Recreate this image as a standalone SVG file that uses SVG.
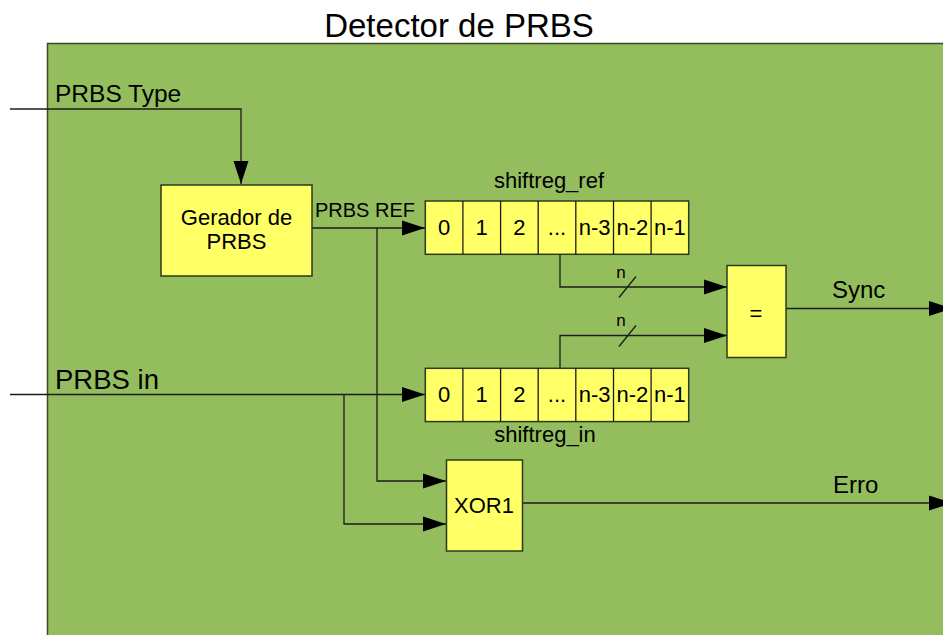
<svg xmlns="http://www.w3.org/2000/svg" width="943" height="635" viewBox="0 0 943 635">
<style>
.t{font-family:"Liberation Sans",Arial,sans-serif;fill:#000}
.blk{fill:#ffff66;stroke:#2e3a1c;stroke-width:1.5}
.w{fill:none;stroke:#1c1c1c;stroke-width:1.3}
.a{marker-end:url(#arr)}
</style>
<defs>
<marker id="arr" markerUnits="userSpaceOnUse" markerWidth="23" markerHeight="15" refX="23" refY="7.5" orient="auto" overflow="visible">
<path d="M0,0 L23,7.5 L0,15 Z" fill="#000"/>
</marker>
</defs>
<rect width="943" height="635" fill="#fff"/>
<g id="frame">
<rect x="47.5" y="43.5" width="920" height="620" fill="#94bd5e" stroke="#3a4a22" stroke-width="1.5"/>
<text class="t" x="459" y="37" font-size="33" text-anchor="middle">Detector de PRBS</text>
</g>
<g id="connectors">
<polyline class="w a" points="10,109 241,109 241,184"/>
<polyline class="w a" points="312,228 425,228"/>
<polyline class="w a" points="377,228 377,481 446,481"/>
<polyline class="w a" points="10,394.5 425,394.5"/>
<polyline class="w a" points="344,394.5 344,524 446,524"/>
<polyline class="w a" points="560,254 560,287 727,287"/>
<polyline class="w a" points="560,368 560,335.5 727,335.5"/>
<line class="w" x1="619" y1="297.5" x2="636" y2="276.5"/>
<line class="w" x1="619" y1="346.5" x2="636" y2="325.5"/>
<polyline class="w a" points="786,308.5 952,308.5"/>
<polyline class="w a" points="522,503 952,503"/>
<text class="t" x="55" y="102" font-size="24.5">PRBS Type</text>
<text class="t" x="315" y="217" font-size="20">PRBS REF</text>
<text class="t" x="55" y="389" font-size="27.5">PRBS in</text>
<text class="t" x="621" y="278" font-size="17" text-anchor="middle">n</text>
<text class="t" x="621" y="326" font-size="17" text-anchor="middle">n</text>
<text class="t" x="832" y="298" font-size="24">Sync</text>
<text class="t" x="833" y="493" font-size="24">Erro</text>
</g>
<g id="gerador">
<rect class="blk" x="161" y="185" width="151" height="91"/>
<text class="t" x="236.5" y="225" font-size="22" text-anchor="middle">Gerador de</text>
<text class="t" x="236.5" y="249" font-size="22" text-anchor="middle">PRBS</text>
</g>
<g id="shiftreg_ref">
<text class="t" x="549" y="188" font-size="22" text-anchor="middle">shiftreg_ref</text>
<rect class="blk" x="425.3" y="201" width="263.4" height="53.3"/>
<g class="w">
<line x1="462.9" y1="201" x2="462.9" y2="254.3"/>
<line x1="500.6" y1="201" x2="500.6" y2="254.3"/>
<line x1="538.2" y1="201" x2="538.2" y2="254.3"/>
<line x1="575.8" y1="201" x2="575.8" y2="254.3"/>
<line x1="613.5" y1="201" x2="613.5" y2="254.3"/>
<line x1="651.1" y1="201" x2="651.1" y2="254.3"/>
</g>
<g font-size="22" text-anchor="middle">
<text class="t" x="444.1" y="235">0</text>
<text class="t" x="481.7" y="235">1</text>
<text class="t" x="519.4" y="235">2</text>
<text class="t" x="557" y="235">...</text>
<text class="t" x="594.7" y="235">n-3</text>
<text class="t" x="632.3" y="235">n-2</text>
<text class="t" x="669.9" y="235">n-1</text>
</g>
</g>
<g id="shiftreg_in">
<rect class="blk" x="425.3" y="368.3" width="263.4" height="53.3"/>
<g class="w">
<line x1="462.9" y1="368.3" x2="462.9" y2="421.6"/>
<line x1="500.6" y1="368.3" x2="500.6" y2="421.6"/>
<line x1="538.2" y1="368.3" x2="538.2" y2="421.6"/>
<line x1="575.8" y1="368.3" x2="575.8" y2="421.6"/>
<line x1="613.5" y1="368.3" x2="613.5" y2="421.6"/>
<line x1="651.1" y1="368.3" x2="651.1" y2="421.6"/>
</g>
<g font-size="22" text-anchor="middle">
<text class="t" x="444.1" y="402">0</text>
<text class="t" x="481.7" y="402">1</text>
<text class="t" x="519.4" y="402">2</text>
<text class="t" x="557" y="402">...</text>
<text class="t" x="594.7" y="402">n-3</text>
<text class="t" x="632.3" y="402">n-2</text>
<text class="t" x="669.9" y="402">n-1</text>
</g>
<text class="t" x="545" y="442" font-size="22" text-anchor="middle">shiftreg_in</text>
</g>
<g id="compare">
<rect class="blk" x="727" y="265.5" width="59" height="92"/>
<text class="t" x="756" y="321" font-size="22" text-anchor="middle">=</text>
</g>
<g id="xor1">
<rect class="blk" x="446.5" y="460" width="76" height="91"/>
<text class="t" x="484" y="513" font-size="22" text-anchor="middle">XOR1</text>
</g>
</svg>
